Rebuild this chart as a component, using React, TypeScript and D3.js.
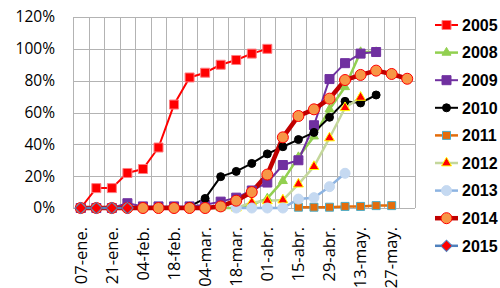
import * as d3 from 'd3';
import React, { useRef, useEffect } from 'react';

const W = 500;
const H = 288;
const plot = { left: 73, right: 415, top: 17, bottom: 208 };

// weekly categories
const weeks = [
  '07-ene.', '14-ene.', '21-ene.', '28-ene.', '04-feb.', '11-feb.', '18-feb.', '25-feb.',
  '04-mar.', '11-mar.', '18-mar.', '25-mar.', '01-abr.', '08-abr.', '15-abr.', '22-abr.',
  '29-abr.', '06-may.', '13-may.', '20-may.', '27-may.', '03-jun.'
];
const yTicks = [0, 20, 40, 60, 80, 100, 120];

const _ = null;
const v2005 = [0, 12.5, 12.5, 22, 24.5, 38, 65, 82, 85, 90, 93, 97, 100];
const v2008 = [0, 0, 0, 0, 0, 0, 0, 0, 0, 0, 0, 2, 6, 17, 32, 45, 62, 76, 98, 98];
const v2009 = [0, 0, 0, 3, 1, 1, 1, 1, 2, 4, 6.5, 11, 16, 27, 30, 52, 81, 91, 97, 98];
const v2010 = [0, 0, 0, 0, 0, 0, 0, 1, 6, 19.7, 23, 28, 34, 38.5, 43, 47.5, 57, 67, 66, 71];
const v2011 = [_, _, _, _, _, _, _, _, _, _, _, _, _, _, 0.5, 0.5, 0.5, 1, 1, 1.5, 1.5];
const v2012 = [_, _, _, _, _, _, _, _, _, _, 0, 3.5, 4.5, 5, 15, 26, 44, 63, 69.5];
const v2013 = [_, _, _, _, _, _, _, _, _, _, 0, 0, 0, 0, 5.6, 6.5, 13.4, 21.8];
const v2014 = [0, 0, 0, 0, 0, 0, 0, 0, 0, 1, 4.6, 10, 21, 44.4, 57.8, 62, 68.7, 80.4, 83.6, 86.3, 84.2, 81.2];
const v2015 = [0, 0, 0, 0];

type Series = {
  name: string; values: (number | null)[]; line: string; lw: number;
  shape: 'square' | 'triangle' | 'circle' | 'diamond'; size: number; fill: string; stroke: string;
};

const series: Series[] = [
  { name: '2005', values: v2005, line: '#ff0000', lw: 2, shape: 'square', size: 9, fill: '#ff0000', stroke: '#ff7c80' },
  { name: '2008', values: v2008, line: '#92d050', lw: 2.5, shape: 'triangle', size: 9, fill: '#92d050', stroke: '#92d050' },
  { name: '2009', values: v2009, line: '#7030a0', lw: 2, shape: 'square', size: 9, fill: '#7030a0', stroke: '#7030a0' },
  { name: '2010', values: v2010, line: '#000000', lw: 2, shape: 'circle', size: 8, fill: '#000000', stroke: '#000000' },
  { name: '2011', values: v2011, line: '#e46c0a', lw: 2.5, shape: 'square', size: 8, fill: '#e46c0a', stroke: '#4bacc6' },
  { name: '2012', values: v2012, line: '#c4d79b', lw: 2.5, shape: 'triangle', size: 10, fill: '#ff0000', stroke: '#ffff00' },
  { name: '2013', values: v2013, line: '#8db4e2', lw: 2.5, shape: 'circle', size: 10, fill: '#c5d9f1', stroke: '#c5d9f1' },
  { name: '2014', values: v2014, line: '#c00000', lw: 4.5, shape: 'circle', size: 11, fill: '#f79646', stroke: '#ff0000' },
  { name: '2015', values: v2015, line: '#4f81bd', lw: 2.5, shape: 'diamond', size: 8, fill: '#ff0000', stroke: '#4f81bd' },
];

function markerPath(shape: Series['shape'], size: number) {
  if (shape === 'square' || shape === 'diamond') return d3.symbol(d3.symbolSquare, size * size)();
  if (shape === 'triangle') return d3.symbol(d3.symbolTriangle, (Math.sqrt(3) / 4) * size * size)();
  return d3.symbol(d3.symbolCircle, Math.PI * (size / 2) * (size / 2))();
}

const App = () => {
  const svgRef = useRef<SVGSVGElement>(null);

  useEffect(() => {
    const x = d3.scaleBand<string>().domain(weeks).range([plot.left, plot.right]).padding(0);
    const cx = (i: number) => (x(weeks[i]) as number) + x.bandwidth() / 2;
    const y = d3.scaleLinear().domain([0, 120]).range([plot.bottom, plot.top]);

    const svg = d3.select(svgRef.current);
    svg.selectAll('*').remove();

    // grid
    const grid = svg.append('g').attr('stroke', '#b3b3b3').attr('stroke-width', 1);
    weeks.concat(['end']).forEach((_w, i) => {
      const gx = Math.round(plot.left + i * x.bandwidth()) + 0.5;
      grid.append('line').attr('x1', gx).attr('x2', gx).attr('y1', plot.top).attr('y2', plot.bottom);
    });
    yTicks.forEach(t => {
      const gy = Math.round(y(t)) + 0.5;
      grid.append('line').attr('x1', plot.left).attr('x2', plot.right).attr('y1', gy).attr('y2', gy);
    });

    // y labels
    svg.append('g')
      .selectAll('text')
      .data(yTicks)
      .join('text')
      .attr('x', 55)
      .attr('y', d => y(d))
      .attr('dy', '0.35em')
      .attr('text-anchor', 'end')
      .attr('font-family', 'Open Sans')
      .attr('font-size', 15.5)
      .attr('fill', '#000')
      .text(d => `${d}%`);

    // x labels every 2 weeks
    svg.append('g')
      .selectAll('text')
      .data(weeks.filter((_w, i) => i % 2 === 0 && i <= 20))
      .join('text')
      .attr('transform', d => `translate(${(x(d) as number) + x.bandwidth() / 2},227) rotate(-90)`)
      .attr('dy', '0.35em')
      .attr('text-anchor', 'end')
      .attr('font-family', 'Open Sans')
      .attr('font-size', 16.5)
      .attr('fill', '#000')
      .text(d => d);

    const line = d3.line<number | null>()
      .defined(d => d !== null)
      .x((_d, i) => cx(i))
      .y(d => y(d as number));

    // lines first, then markers
    series.forEach(s => {
      svg.append('path')
        .attr('d', line(s.values))
        .attr('fill', 'none')
        .attr('stroke', s.line)
        .attr('stroke-width', s.lw)
        .attr('stroke-linejoin', 'round');
    });
    series.forEach(s => {
      const pts = s.values.map((v, i) => ({ v, i })).filter(p => p.v !== null);
      svg.append('g')
        .selectAll('path')
        .data(pts)
        .join('path')
        .attr('d', markerPath(s.shape, s.size))
        .attr('transform', p => `translate(${cx(p.i)},${y(p.v as number)})${s.shape === 'diamond' ? ' rotate(45)' : ''}`)
        .attr('fill', s.fill)
        .attr('stroke', s.stroke)
        .attr('stroke-width', 1);
    });

    // legend
    const leg = svg.append('g');
    series.forEach((s, i) => {
      const ly = 25 + i * 27.6;
      leg.append('line')
        .attr('x1', 435).attr('x2', 458).attr('y1', ly).attr('y2', ly)
        .attr('stroke', s.line).attr('stroke-width', s.lw);
      leg.append('path')
        .attr('d', markerPath(s.shape, s.size))
        .attr('transform', `translate(446.5,${ly})${s.shape === 'diamond' ? ' rotate(45)' : ''}`)
        .attr('fill', s.fill)
        .attr('stroke', s.stroke)
        .attr('stroke-width', 1);
      leg.append('text')
        .attr('x', 462)
        .attr('y', ly)
        .attr('dy', '0.36em')
        .attr('font-family', 'Liberation Sans')
        .attr('font-weight', 'bold')
        .attr('font-size', 16)
        .attr('fill', '#000')
        .text(s.name);
    });
  }, []);

  return (
    <svg ref={svgRef} width={W} height={H}
      style={{ position: 'absolute', left: 0, top: 0, background: '#fff' }} />
  );
};

export default App;
